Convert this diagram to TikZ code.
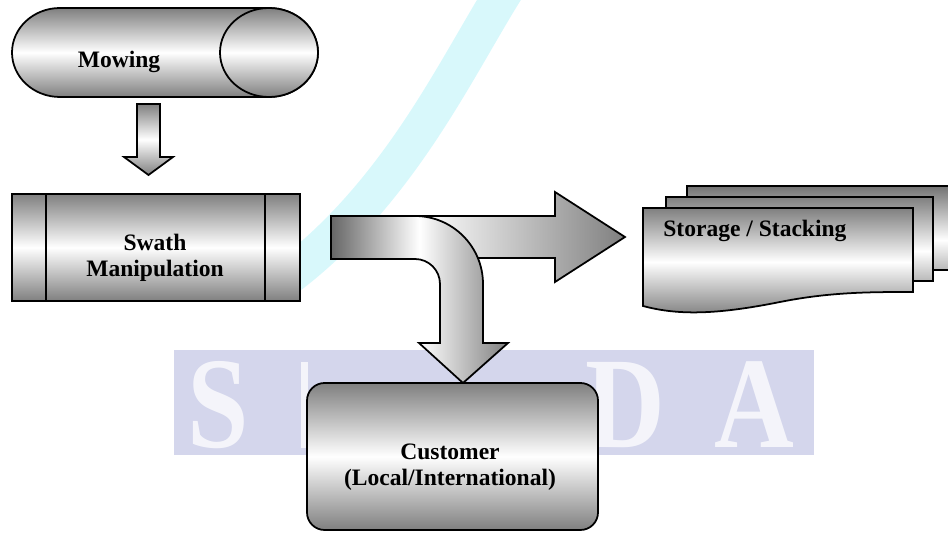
\documentclass[tikz,border=0pt]{standalone}
\usepackage{fontspec}
\setmainfont{Liberation Serif}
\definecolor{WmBand}{RGB}{212,214,236}
\definecolor{WmCyan}{RGB}{200,245,250}
\usepackage{tikz}

\begin{document}
\begin{tikzpicture}[x=0.02cm, y=-0.02cm,
      lbl/.style={font=\bfseries\fontsize{13.4}{15}\selectfont, align=center, inner sep=0pt},
      wm/.style={font=\bfseries\fontsize{74}{74}\selectfont, text=white, opacity=.75, inner sep=0pt},
      outl/.style={draw=black, line width=1pt},
      vgrad/.style={top color=gray, bottom color=gray, middle color=white},
      hgrad/.style={left color=black!60, right color=gray, middle color=white}]
  \useasboundingbox (0,0) rectangle (948,533);

  % watermark (only the left stem of the M shows beside the customer box)
  \draw[WmCyan, opacity=.7, line width=0.75cm] (505,-10) .. controls (455,70) and (400,190) .. (290,275);
  \fill[WmBand] (174,350) rectangle (814,455);
  \foreach \ch/\px in {S/218, D/625, A/754}
    \node[wm, anchor=base] (wm\ch) at (\px,448) {\scalebox{0.85}[1]{\ch}};
  \fill[white, opacity=.75] (301,362) rectangle (308,448);

  % mowing cylinder
  \path[outl, vgrad] (269,8) -- (60,8) arc[start angle=270, end angle=90, x radius=48, y radius=44.5]
    -- (269,97) arc[start angle=90, end angle=-90, x radius=49, y radius=44.5] -- cycle;
  \path[outl, vgrad] (269,52.5) ellipse[x radius=49, y radius=44.5];
  \node[lbl] (mowing) at (119,62) {Mowing};

  % arrow down to swath
  \path[outl, vgrad] (137,104) -- (160,104) -- (160,157) -- (173,157) -- (148.5,175)
    -- (124,157) -- (137,157) -- cycle;

  % swath box
  \path[outl, vgrad] (12,194) rectangle (300,301);
  \draw[line width=1pt] (46,194) -- (46,301) (265,194) -- (265,301);
  \node[lbl] (swath) at (155,258) {Swath\\Manipulation};

  % split arrow
  \path[outl, left color=white, right color=gray] (420,216) -- (555,216) -- (555,192) -- (625,237)
    -- (555,282) -- (555,258) -- (420,258) -- cycle;
  \path[outl, hgrad] (331,216) -- (415,216) arc[start angle=270, end angle=360, radius=68]
    -- (483,343) -- (508,343) -- (463,383) -- (419,343) -- (440,343)
    -- (440,284) arc[start angle=0, end angle=-90, radius=25] -- (331,259) -- cycle;

  % storage documents
  \path[outl, top color=black!55, bottom color=gray, middle color=white] (687,186) -- (957,186) -- (957,270)
    .. controls (914,270) and (874,270) .. (824,280) .. controls (764,292) and (724,294) .. (687,284) -- cycle;
  \path[outl, vgrad] (666,197) -- (933,197) -- (933,281)
    .. controls (890,281) and (850,281) .. (803,291) .. controls (743,303) and (703,305) .. (666,295) -- cycle;
  \path[outl, vgrad] (643,208) -- (913,208) -- (913,292)
    .. controls (870,292) and (830,292) .. (780,302) .. controls (720,314) and (680,316) .. (643,306) -- cycle;
  \node[lbl, anchor=west] (storage) at (663,231) {Storage / Stacking};

  % customer box
  \path[outl, vgrad, rounded corners=10pt] (307,383) rectangle (598,530);
  \node[lbl] (customer) at (450,467) {Customer\\(Local/International)};
\end{tikzpicture}
\end{document}
